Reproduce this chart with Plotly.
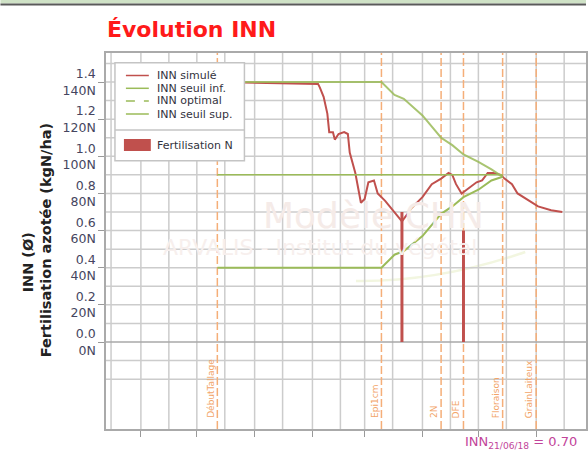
import plotly.graph_objects as go

# ---- data -------------------------------------------------------------
# INN simulé (nitrogen nutrition index, simulated)
inn_dates = ["2017-12-12", "2018-02-04", "2018-02-05", "2018-02-07", "2018-02-09",
             "2018-02-10", "2018-02-12", "2018-02-13", "2018-02-15", "2018-02-18",
             "2018-02-20", "2018-02-21", "2018-02-24", "2018-02-26", "2018-02-27",
             "2018-03-01", "2018-03-03", "2018-03-06", "2018-03-08", "2018-03-12",
             "2018-03-17", "2018-03-21", "2018-03-24", "2018-03-26", "2018-04-01",
             "2018-04-06", "2018-04-11", "2018-04-15", "2018-04-17", "2018-04-19",
             "2018-04-22", "2018-04-26", "2018-04-30", "2018-05-03", "2018-05-06",
             "2018-05-09", "2018-05-13", "2018-05-15", "2018-05-19", "2018-05-22",
             "2018-05-27", "2018-06-02", "2018-06-09", "2018-06-15"]
inn_values = [1.40, 1.39, 1.37, 1.32, 1.23,
              1.13, 1.13, 1.09, 1.12, 1.13,
              1.12, 1.02, 0.91, 0.80, 0.75,
              0.77, 0.86, 0.87, 0.80, 0.76,
              0.70, 0.65, 0.69, 0.72, 0.78,
              0.85, 0.88, 0.91, 0.90, 0.85,
              0.80, 0.83, 0.86, 0.87, 0.91,
              0.91, 0.90, 0.88, 0.85, 0.80,
              0.77, 0.73, 0.71, 0.70]

# thresholds
seuil_dates = ["2017-12-12", "2018-03-10", "2018-03-17", "2018-03-22", "2018-04-01",
               "2018-04-11", "2018-04-17", "2018-04-23", "2018-05-01", "2018-05-08",
               "2018-05-14"]
seuil_sup = [1.40, 1.40, 1.33, 1.31, 1.22, 1.10, 1.06, 1.01, 0.97, 0.93, 0.89]
seuil_inf = [0.40, 0.40, 0.47, 0.49, 0.57, 0.69, 0.73, 0.78, 0.82, 0.87, 0.89]

optimal_dates = ["2017-12-12", "2018-05-14"]
optimal_values = [0.90, 0.90]

# nitrogen applications (kgN/ha)
fert_dates = ["2018-03-21", "2018-04-23"]
fert_kgN = [70, 60]

# crop stages
stage_names = ["DébutTallage", "Epi1cm", "2N", "DFE", "Floraison", "GrainLaiteux"]
stage_dates = ["2017-12-12", "2018-03-10", "2018-04-11", "2018-04-23", "2018-05-14", "2018-06-01"]

# axes
y_tickvals = [0.0, 0.2, 0.4, 0.6, 0.8, 1.0, 1.2, 1.4]
y_ticktext = ["0.0<br>0N", "0.2<br>20N", "0.4<br>40N", "0.6<br>60N", "0.8<br>80N",
              "1.0<br>100N", "1.2<br>120N", "1.4<br>140N"]
y_grid = [-0.2, -0.1, 0.1, 0.2, 0.3, 0.4, 0.5, 0.6, 0.7, 0.8, 0.9, 1.0, 1.1, 1.2,
          1.3, 1.4, 1.5]
month_starts = ["2017-11-01", "2017-12-01", "2018-01-01", "2018-02-01", "2018-03-01",
                "2018-04-01", "2018-05-01", "2018-06-01"]
mid_months = ["2017-10-16", "2017-11-16", "2017-12-16", "2018-01-16", "2018-02-16",
              "2018-03-16", "2018-04-16", "2018-05-16", "2018-06-16"]
x_range = ["2017-10-13 07:00", "2018-06-27 17:00"]
y_range = [-0.4685, 1.5563]

last_label = "INN<sub>21/06/18</sub> = 0.70"

# ---- styling ----------------------------------------------------------
RED = "#c0504d"
GREEN = "#9bbb59"
ORANGE = "#f5ae78"
GRID = "#cccccc"
FONT = "DejaVu Sans"

W, H = 588, 453
ML, MT, MB, MR = 106, 53, 24, 0
PW, PH = W - ML - MR, H - MT - MB


def px(x):
    return (x - ML) / PW


def py(y):
    return (H - MB - y) / PH


fig = go.Figure()

# nitrogen applications as thick stems from zero (kgN/ha shown on the 1/100 scale)
fx, fy = [], []
for d, v in zip(fert_dates, fert_kgN):
    fx += [d, d, None]
    fy += [0, v / 100, None]
fig.add_trace(go.Scatter(x=fx, y=fy, mode="lines", line=dict(color=RED, width=3),
                         name="Fertilisation N", showlegend=False))
fig.add_trace(go.Scatter(x=inn_dates, y=inn_values, mode="lines",
                         line=dict(color=RED, width=2), name="INN simulé", showlegend=False))
fig.add_trace(go.Scatter(x=optimal_dates, y=optimal_values, mode="lines",
                         line=dict(color=GREEN, width=1.5), name="INN optimal", showlegend=False))
fig.add_trace(go.Scatter(x=seuil_dates, y=seuil_inf, mode="lines",
                         line=dict(color=GREEN, width=2), name="INN seuil inf.", showlegend=False))
fig.add_trace(go.Scatter(x=seuil_dates, y=seuil_sup, mode="lines", opacity=0.85,
                         line=dict(color=GREEN, width=2), name="INN seuil sup.", showlegend=False))

shapes = []
annotations = []

# grid: half-month verticals and 0.1 horizontals, under the stage lines and data
for d in mid_months + month_starts:
    shapes.append(dict(type="line", xref="x", yref="y", x0=d, x1=d,
                       y0=y_range[0], y1=y_range[1],
                       line=dict(color=GRID, width=1.5), layer="between"))
for v in y_grid:
    shapes.append(dict(type="line", xref="x", yref="y", x0=x_range[0], x1=x_range[1],
                       y0=v, y1=v, line=dict(color=GRID, width=1.5), layer="between"))
shapes.append(dict(type="line", xref="x", yref="y", x0=x_range[0], x1=x_range[1], y0=0, y1=0,
                   line=dict(color="#a8a8a8", width=1.5), layer="between"))

# stage markers
for name, d in zip(stage_names, stage_dates):
    shapes.append(dict(type="line", xref="x", yref="y", x0=d, x1=d,
                       y0=y_range[0], y1=y_range[1],
                       line=dict(color=ORANGE, width=1.5, dash="8px,3px"), layer="between"))
    annotations.append(dict(x=d, xref="x", yref="paper", y=py(420), text=name,
                            textangle=-90, showarrow=False, xanchor="center", yanchor="bottom",
                            xshift=-7, font=dict(family=FONT, size=9, color="#f2a468")))

# watermark
annotations.append(dict(xref="paper", yref="paper", x=px(375), y=py(215), text="Modèle CHN",
                        showarrow=False, font=dict(family=FONT, size=36, color="#f5ebe8")))
annotations.append(dict(xref="paper", yref="paper", x=px(321), y=py(248),
                        text="ARVALIS - Institut du végétal",
                        showarrow=False, font=dict(family=FONT, size=22, color="#f7efed")))
shapes.append(dict(type="path", xref="paper", yref="paper",
                   path=f"M {px(357)},{py(281)} Q {px(440)},{py(282)} {px(527)},{py(252)}",
                   line=dict(color="#f2f6e0", width=2.5), layer="between"))

# legend box
shapes.append(dict(type="rect", xref="paper", yref="paper", x0=px(115), x1=px(245),
                   y0=py(160.7), y1=py(62.7), line=dict(color="#c4c4c4", width=1.5),
                   fillcolor="white"))
shapes.append(dict(type="line", xref="paper", yref="paper", x0=px(115), x1=px(245),
                   y0=py(130), y1=py(130), line=dict(color="#c4c4c4", width=1.5)))
legend_items = [("INN simulé", RED, "solid", 75.5),
                ("INN seuil inf.", GREEN, "solid", 88.3),
                ("INN optimal", GREEN, "dash", 101),
                ("INN seuil sup.", GREEN, "solid", 114)]
for label, col, dash, yy in legend_items:
    shapes.append(dict(type="line", xref="paper", yref="paper", x0=px(126), x1=px(149),
                       y0=py(yy), y1=py(yy), line=dict(color=col, width=1.5, dash=dash)))
    annotations.append(dict(xref="paper", yref="paper", x=px(155), y=py(yy), text=label,
                            showarrow=False, xanchor="left", yanchor="middle",
                            font=dict(family=FONT, size=11, color="#333340")))
shapes.append(dict(type="rect", xref="paper", yref="paper", x0=px(124), x1=px(151),
                   y0=py(151), y1=py(139), line=dict(width=0), fillcolor=RED))
annotations.append(dict(xref="paper", yref="paper", x=px(155), y=py(145.5), text="Fertilisation N",
                        showarrow=False, xanchor="left", yanchor="middle",
                        font=dict(family=FONT, size=11, color="#333340")))

# header strip
shapes.append(dict(type="rect", xref="paper", yref="paper", x0=px(0), x1=1,
                   y0=py(3.5), y1=py(0), line=dict(width=0), fillcolor="#cfe2c6"))
shapes.append(dict(type="line", xref="paper", yref="paper", x0=px(0), x1=1,
                   y0=py(4.5), y1=py(4.5), line=dict(color="#5a5a5a", width=2)))

# titles
annotations.append(dict(xref="paper", yref="paper", x=px(105), y=py(30),
                        text="<b>Évolution INN</b>", showarrow=False, xanchor="left",
                        yanchor="middle", font=dict(family=FONT, size=22, color="#ff1a1a")))
annotations.append(dict(xref="paper", yref="paper", x=px(18), y=py(262), text="<b>INN (Ø)</b>",
                        textangle=-90, showarrow=False,
                        font=dict(family=FONT, size=14.5, color="#222")))
annotations.append(dict(xref="paper", yref="paper", x=px(36), y=py(240),
                        text="<b>Fertilisation azotée (kgN/ha)</b>", textangle=-90,
                        showarrow=False, font=dict(family=FONT, size=14.5, color="#222")))
annotations.append(dict(xref="paper", yref="paper", x=px(581), y=py(443), text=last_label,
                        showarrow=False, xanchor="right", yanchor="middle",
                        font=dict(family=FONT, size=13, color="#c2449a")))

fig.update_layout(
    width=W, height=H,
    margin=dict(l=ML, r=MR, t=MT, b=MB, pad=0),
    paper_bgcolor="white", plot_bgcolor="white",
    showlegend=False,
    font=dict(family=FONT),
    shapes=shapes, annotations=annotations,
    xaxis=dict(type="date", range=x_range, tickmode="array", tickvals=month_starts,
               showticklabels=False, ticks="outside", ticklen=6, tickcolor="#999",
               showgrid=False, showline=True, linecolor="#aaa", linewidth=1.5, mirror=True,
               zeroline=False, fixedrange=True),
    yaxis=dict(range=y_range, tickmode="array", tickvals=y_tickvals, ticktext=y_ticktext,
               ticks="outside", ticklen=6, tickcolor="#999",
               tickfont=dict(family=FONT, size=12.5, color="#454560"),
               showgrid=False, zeroline=False,
               showline=True, linecolor="#aaa", linewidth=1.5, mirror=True,
               fixedrange=True),
)

fig.write_html("out.html")
